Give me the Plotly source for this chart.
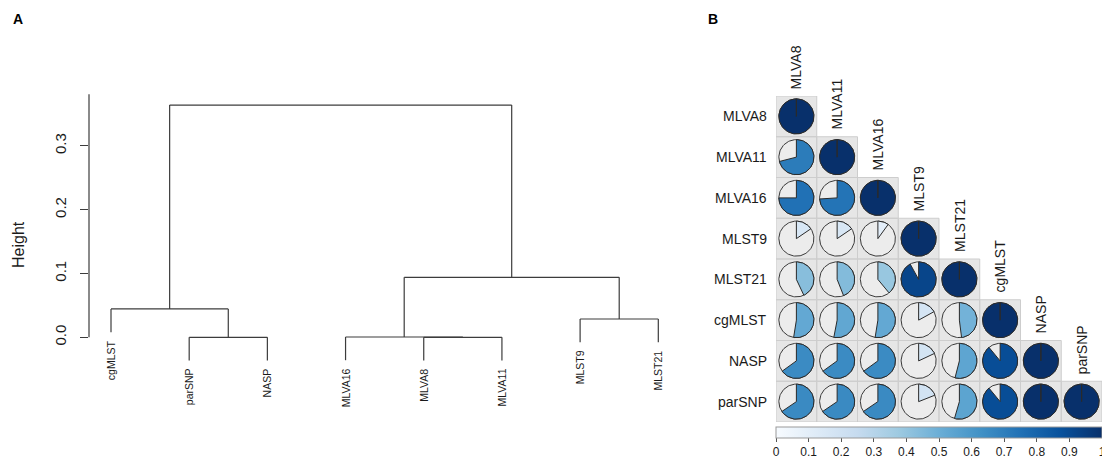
import math
import plotly.graph_objects as go
from plotly.colors import sample_colorscale

W, H = 1102, 459
FONT = "Liberation Sans, Arial, sans-serif"

# ---------------- Panel A data (hierarchical clustering) ----------------
leaf_labels = ["cgMLST", "parSNP", "NASP", "MLVA16", "MLVA8", "MLVA11", "MLST9", "MLST21"]
# hclust-style merges: negative = leaf (1-based position), positive = earlier merge step
merge_left = [-2, -5, -4, -7, -1, 3, 5]
merge_right = [-3, -6, 2, -8, 1, 4, 6]
merge_height = [0.0, 0.0, 0.0005, 0.0287, 0.0444, 0.094, 0.364]
height_ticks = [0.0, 0.1, 0.2, 0.3]
height_tick_text = ["0.0", "0.1", "0.2", "0.3"]

# ---------------- Panel B data (lower triangle matrix) ----------------
mat_labels = ["MLVA8", "MLVA11", "MLVA16", "MLST9", "MLST21", "cgMLST", "NASP", "parSNP"]
row_MLVA8 = [1.0]
row_MLVA11 = [0.71, 1.0]
row_MLVA16 = [0.75, 0.74, 1.0]
row_MLST9 = [0.155, 0.155, 0.10, 1.0]
row_MLST21 = [0.43, 0.44, 0.39, 0.92, 1.0]
row_cgMLST = [0.525, 0.53, 0.525, 0.17, 0.48, 1.0]
row_NASP = [0.65, 0.65, 0.65, 0.18, 0.54, 0.89, 1.0]
row_parSNP = [0.655, 0.655, 0.655, 0.19, 0.545, 0.89, 1.0, 1.0]
mat_rows = [row_MLVA8, row_MLVA11, row_MLVA16, row_MLST9, row_MLST21,
            row_cgMLST, row_NASP, row_parSNP]
cbar_ticks = [0, 0.1, 0.2, 0.3, 0.4, 0.5, 0.6, 0.7, 0.8, 0.9, 1]
cbar_text = ["0", "0.1", "0.2", "0.3", "0.4", "0.5", "0.6", "0.7", "0.8", "0.9", "1"]

BLUES = [[0.0, "rgb(247,251,255)"], [0.125, "rgb(222,235,247)"], [0.25, "rgb(198,219,239)"],
         [0.375, "rgb(158,202,225)"], [0.5, "rgb(107,174,214)"], [0.625, "rgb(66,146,198)"],
         [0.75, "rgb(33,113,181)"], [0.875, "rgb(8,81,156)"], [1.0, "rgb(8,48,107)"]]

fig = go.Figure()

# ---------------- Panel A: dendrogram ----------------
LINE = "#3c3c3c"
hang = 0.1 * max(merge_height)
node_x = []
seg_x, seg_y = [], []
for k in range(len(merge_height)):
    h = merge_height[k]
    xs = []
    for ref in (merge_left[k], merge_right[k]):
        if ref < 0:
            cx = -ref
            cy = h - hang
        else:
            cx = node_x[ref - 1]
            cy = merge_height[ref - 1]
        xs.append(cx)
        seg_x += [cx, cx, None]
        seg_y += [cy, h, None]
    seg_x += [xs[0], xs[1], None]
    seg_y += [h, h, None]
    node_x.append((xs[0] + xs[1]) / 2)

fig.add_trace(go.Scatter(x=seg_x, y=seg_y, mode="lines",
                         line=dict(color=LINE, width=1.2),
                         hoverinfo="skip", showlegend=False,
                         xaxis="x", yaxis="y"))

# leaf labels
leaf_bottom = {}
for k in range(len(merge_height)):
    for ref in (merge_left[k], merge_right[k]):
        if ref < 0:
            leaf_bottom[-ref] = merge_height[k] - hang
annotations = []
for i, lab in enumerate(leaf_labels, start=1):
    annotations.append(dict(x=i, y=leaf_bottom[i], xref="x", yref="y", text=lab,
                            textangle=-90, showarrow=False, xanchor="center",
                            yanchor="top", yshift=-6,
                            font=dict(size=10.5, color="#1a1a1a", family=FONT)))

# axis geometry for panel A (pixel matching)
ax_left_px, ax_right_px = 89, 700
px_per_leaf = (658.3 - 111) / 7
r0 = 1 - (111 - ax_left_px) / px_per_leaf
r1 = r0 + (ax_right_px - ax_left_px) / px_per_leaf
zero_px, px_per_unit = 337.3, 638.0
y_lo = (zero_px - H) / px_per_unit
y_hi = zero_px / px_per_unit

# ---------------- Panel B: pie matrix ----------------
n = len(mat_labels)
R = 0.43
sq_x, sq_y = [], []
circ_x, circ_y = [], []
NPT = 120
for i in range(n):
    for j in range(i + 1):
        cx, cy = j + 1, i + 1
        sq_x += [cx - 0.5, cx + 0.5, cx + 0.5, cx - 0.5, cx - 0.5, None]
        sq_y += [cy - 0.5, cy - 0.5, cy + 0.5, cy + 0.5, cy - 0.5, None]
        for t in range(NPT + 1):
            a = 2 * math.pi * t / NPT
            circ_x.append(cx + R * math.sin(a))
            circ_y.append(cy - R * math.cos(a))
        circ_x.append(None)
        circ_y.append(None)

fig.add_trace(go.Scatter(x=sq_x, y=sq_y, mode="lines", fill="toself",
                         fillcolor="#e6e6e6", line=dict(color="#cdcdcd", width=1),
                         hoverinfo="skip", showlegend=False, xaxis="x2", yaxis="y2"))
fig.add_trace(go.Scatter(x=circ_x, y=circ_y, mode="lines", fill="toself",
                         fillcolor="#ececec", line=dict(color="#3a3a3a", width=1),
                         hoverinfo="skip", showlegend=False, xaxis="x2", yaxis="y2"))

for i, row in enumerate(mat_rows):
    for j, v in enumerate(row):
        cx, cy = j + 1, i + 1
        col = sample_colorscale(BLUES, [v])[0]
        npt = max(2, int(NPT * v))
        px = [cx]
        py = [cy]
        for t in range(npt + 1):
            a = 2 * math.pi * v * t / npt
            px.append(cx + R * math.sin(a))
            py.append(cy - R * math.cos(a))
        px.append(cx)
        py.append(cy)
        fig.add_trace(go.Scatter(x=px, y=py, mode="lines", fill="toself",
                                 fillcolor=col, line=dict(color="#2a2a2a", width=1),
                                 hoverinfo="skip", showlegend=False,
                                 xaxis="x2", yaxis="y2"))

# colorbar
fig.add_trace(go.Scatter(
    x=[1], y=[1], mode="markers", xaxis="x2", yaxis="y2", hoverinfo="skip",
    showlegend=False,
    marker=dict(size=1, opacity=0, color=[1], colorscale=BLUES, cmin=0, cmax=1,
                showscale=True,
                colorbar=dict(orientation="h", x=939 / W, xanchor="center",
                              y=1 - 427 / H, yanchor="top", thickness=11,
                              len=326, lenmode="pixels", xpad=0, ypad=0,
                              outlinewidth=1, outlinecolor="#999999",
                              tickmode="array",
                              tickvals=cbar_ticks, ticktext=cbar_text,
                              ticklabeloverflow="allow",
                              ticks="outside", ticklen=4, tickcolor="#555555",
                              tickfont=dict(size=12, color="#1a1a1a", family=FONT)))))

# matrix labels
bx0, bx1 = 776, 1102
by0, by1 = 96, 422
for i, lab in enumerate(mat_labels):
    annotations.append(dict(x=769 / W, y=i + 1, xref="paper", yref="y2", text=lab,
                            showarrow=False, xanchor="right", yanchor="middle",
                            font=dict(size=14, color="#1a1a1a", family=FONT)))
    annotations.append(dict(x=i + 1, y=i + 0.5, xref="x2", yref="y2", text=lab,
                            textangle=-90, showarrow=False, xanchor="center",
                            yanchor="bottom", yshift=5,
                            font=dict(size=14, color="#1a1a1a", family=FONT)))

# panel letters and axis title
annotations.append(dict(x=17.5 / W, y=1 - 18.5 / H, xref="paper", yref="paper", text="<b>A</b>",
                        showarrow=False, xanchor="center", yanchor="middle",
                        font=dict(size=14, color="#000000", family=FONT)))
annotations.append(dict(x=713 / W, y=1 - 18.5 / H, xref="paper", yref="paper", text="<b>B</b>",
                        showarrow=False, xanchor="center", yanchor="middle",
                        font=dict(size=14, color="#000000", family=FONT)))
annotations.append(dict(x=19 / W, y=1 - 245 / H, xref="paper", yref="paper", text="Height",
                        textangle=-90, showarrow=False, xanchor="center", yanchor="middle",
                        font=dict(size=16, color="#1a1a1a", family=FONT)))

fig.update_layout(
    width=W, height=H,
    margin=dict(l=0, r=0, t=0, b=0, autoexpand=False),
    paper_bgcolor="white", plot_bgcolor="rgba(0,0,0,0)",
    font=dict(family=FONT, color="#1a1a1a"),
    hovermode=False,
    showlegend=False,
    annotations=annotations,
    shapes=[dict(type="line", xref="x domain", yref="y", x0=0, x1=0, y0=0, y1=0.381,
                 line=dict(color=LINE, width=1.2))],
    xaxis=dict(domain=[ax_left_px / W, ax_right_px / W], range=[r0, r1], visible=False,
               fixedrange=True),
    yaxis=dict(domain=[0, 1], range=[y_lo, y_hi], showgrid=False, zeroline=False,
               showline=False, tickvals=height_ticks, ticktext=height_tick_text,
               tickangle=-90, ticks="outside", ticklen=8, tickwidth=1.2, tickcolor=LINE,
               ticklabelstandoff=8,
               tickfont=dict(size=15, color="#1a1a1a", family=FONT), fixedrange=True),
    xaxis2=dict(domain=[bx0 / W, bx1 / W], range=[0.5, n + 0.5], visible=False,
                fixedrange=True, anchor="y2"),
    yaxis2=dict(domain=[1 - by1 / H, 1 - by0 / H], range=[n + 0.5, 0.5], visible=False,
                fixedrange=True, anchor="x2"),
)

fig.write_html("out.html", config={"displayModeBar": False},
               post_script="document.body.style.margin='0';document.body.style.overflow='hidden';")
